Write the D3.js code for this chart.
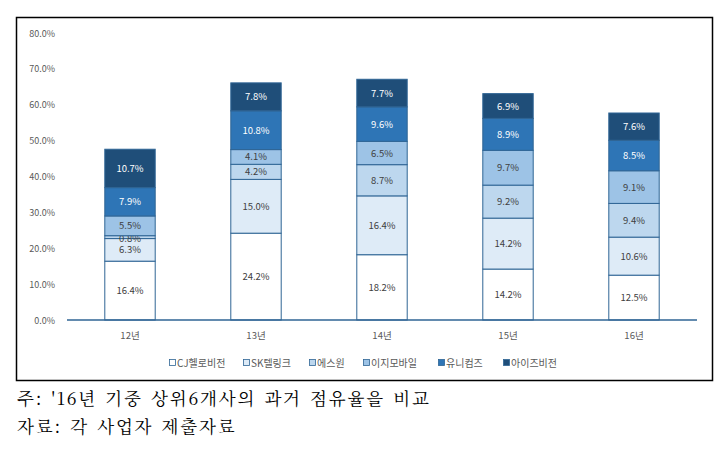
<!DOCTYPE html>
<html>
<head>
<meta charset="utf-8">
<script src="https://cdn.jsdelivr.net/npm/d3@7"></script>
<style>
  body { margin: 0; background: #fff; }
  svg { display: block; }
</style>
</head>
<body>
<div id="chart"></div>
<script>
// categories (years) and series, bottom to top
const years = ['12년', '13년', '14년', '15년', '16년'];
const seriesNames = ['CJ헬로비전', 'SK텔링크', '에스원', '이지모바일', '유니컴즈', '아이즈비전'];
const cjHello = [16.4, 24.2, 18.2, 14.2, 12.5];
const skTelink = [6.3, 15.0, 16.4, 14.2, 10.6];
const s1 = [0.8, 4.2, 8.7, 9.2, 9.4];
const easyMobile = [5.5, 4.1, 6.5, 9.7, 9.1];
const uniCommz = [7.9, 10.8, 9.6, 8.9, 8.5];
const eyesVision = [10.7, 7.8, 7.7, 6.9, 7.6];
const yTicks = [0, 10, 20, 30, 40, 50, 60, 70, 80];
const notes = ['주: \'16년 기중 상위6개사의 과거 점유율을 비교', '자료: 각 사업자 제출자료'];

const colors = ['#ffffff', '#deebf7', '#bdd7ee', '#9dc3e6', '#2e75b6', '#1f4e79'];
const textColors = ['#404040', '#404040', '#404040', '#404040', '#ffffff', '#ffffff'];

const width = 727, height = 449;
const margin = { left: 67, right: 30, top: 33, bottom: 129 };

const svg = d3.select('#chart')
  .append('svg')
  .attr('width', width)
  .attr('height', height);

// outer frame
svg.append('rect')
  .attr('x', 16.5).attr('y', 17.5)
  .attr('width', 696).attr('height', 363)
  .attr('fill', 'none')
  .attr('stroke', '#000')
  .attr('stroke-width', 1.5);

const table = years.map((y, i) => {
  const row = { year: y };
  [cjHello, skTelink, s1, easyMobile, uniCommz, eyesVision].forEach((arr, k) => {
    row[seriesNames[k]] = arr[i];
  });
  return row;
});
const stacked = d3.stack().keys(seriesNames)(table);

const x = d3.scaleBand()
  .domain(years)
  .range([margin.left, width - margin.right])
  .paddingInner(0.6)
  .paddingOuter(0.3);

const y = d3.scaleLinear()
  .domain([0, 80])
  .range([height - margin.bottom, margin.top]);

const font = 'Malgun Gothic, "Noto Sans CJK KR", "Open Sans", sans-serif';

// y tick labels (no axis line)
svg.append('g')
  .selectAll('text')
  .data(yTicks)
  .enter()
  .append('text')
  .attr('x', 55)
  .attr('y', d => y(d) + 3.5)
  .attr('text-anchor', 'end')
  .attr('font-family', font)
  .attr('font-size', '9px')
  .attr('fill', '#595959')
  .text(d => d.toFixed(1) + '%');

// bars
const layer = svg.append('g')
  .selectAll('g')
  .data(stacked)
  .enter()
  .append('g');

layer.selectAll('rect')
  .data((d, k) => d.map(v => ({ v, k })))
  .enter()
  .append('rect')
  .attr('x', d => x(d.v.data.year))
  .attr('y', d => y(d.v[1]))
  .attr('width', x.bandwidth())
  .attr('height', d => y(d.v[0]) - y(d.v[1]))
  .attr('fill', d => colors[d.k])
  .attr('stroke', '#2f6595')
  .attr('stroke-width', 1);

layer.selectAll('text')
  .data((d, k) => d.map(v => ({ v, k })))
  .enter()
  .append('text')
  .attr('x', d => x(d.v.data.year) + x.bandwidth() / 2)
  .attr('y', d => {
    let cy = (y(d.v[0]) + y(d.v[1])) / 2 + 3.5;
    // tiny 12년 에스원 slice: label sits over the border
    if (d.v[1] - d.v[0] < 1.5) cy += 1;
    return cy;
  })
  .attr('text-anchor', 'middle')
  .attr('font-family', font)
  .attr('font-size', '9.5px')
  .attr('fill', d => textColors[d.k])
  .text(d => (d.v[1] - d.v[0]).toFixed(1) + '%');

// x axis
const xAxis = svg.append('g')
  .attr('transform', `translate(0,${y(0)})`)
  .call(d3.axisBottom(x).tickSize(0).tickPadding(12));
xAxis.select('.domain')
  .attr('d', `M${margin.left},0H${width - margin.right}`)
  .attr('stroke', '#2f6595')
  .attr('stroke-width', 1.5);
xAxis.selectAll('text')
  .attr('font-family', font)
  .attr('font-size', '9.5px')
  .attr('fill', '#595959');

// legend
const legendX = [172, 246, 312, 366, 441, 506];
const legend = svg.append('g')
  .selectAll('g')
  .data(seriesNames)
  .enter()
  .append('g')
  .attr('transform', (d, i) => `translate(${legendX[i]},363)`);
legend.append('rect')
  .attr('x', -2.5).attr('y', -3.5)
  .attr('width', 6).attr('height', 6)
  .attr('fill', (d, i) => colors[i])
  .attr('stroke', '#2f6595')
  .attr('stroke-width', 0.8);
legend.append('text')
  .attr('x', 5)
  .attr('y', 3.5)
  .attr('font-family', font)
  .attr('font-size', '10px')
  .attr('fill', '#595959')
  .text(d => d);

// footnotes (reference uses a wide serif face; widen with spacing)
svg.append('g')
  .selectAll('text')
  .data(notes)
  .enter()
  .append('text')
  .attr('x', 17)
  .attr('y', (d, i) => 405 + i * 28)
  .attr('font-family', '"Noto Serif CJK KR", Batang, "DejaVu Serif", "Noto Sans CJK KR", serif')
  .attr('font-size', '17.5px')
  .attr('letter-spacing', '1.8px')
  .attr('word-spacing', '2px')
  .attr('fill', '#000')
  .text(d => d);
</script>
</body>
</html>
